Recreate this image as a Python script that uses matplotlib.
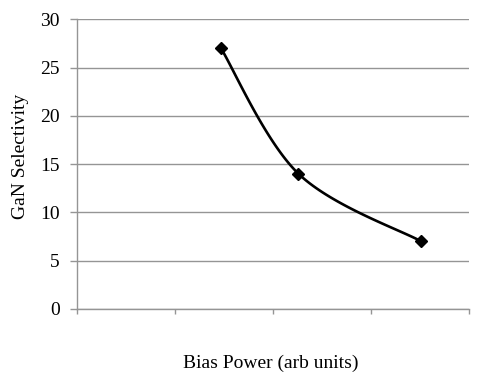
import matplotlib
matplotlib.use('Agg')
import numpy as np
import matplotlib.pyplot as plt
from matplotlib.ticker import MultipleLocator

# data
biasPower = [1.47, 2.26, 3.51]
selectivity = [27, 14, 7]
yTicks = [0, 5, 10, 15, 20, 25, 30]

plt.rcParams['font.family'] = ['Liberation Serif', 'DejaVu Serif']
fig = plt.figure(figsize=(4.89, 3.8), dpi=100)
ax = fig.add_axes([0.1575, 0.1876, 0.8015, 0.7611])
ax.set_xlim(0, 4)
ax.set_ylim(0, 30)
ax.set_yticks(yTicks)
ax.xaxis.set_major_locator(MultipleLocator(1))
ax.set_xticklabels([])
grey = '#959595'
ax.grid(axis='y', color=grey, linewidth=1.0)
ax.set_axisbelow(True)
for s in ['top', 'right']:
    ax.spines[s].set_visible(False)
for s in ['left', 'bottom']:
    ax.spines[s].set_color(grey)
    ax.spines[s].set_linewidth(1.0)
ax.tick_params(axis='both', colors=grey, width=1.0, labelsize=14, labelcolor='black')
ax.tick_params(axis='y', length=5, pad=7.5)
ax.tick_params(axis='x', length=3.5)

# smooth line like excel: catmull-rom bezier in screen space
fig.canvas.draw()
pts = ax.transData.transform(np.column_stack([biasPower, selectivity]))
curve = []
n = len(pts)
for i in range(n - 1):
    p0 = pts[max(i - 1, 0)]
    p1 = pts[i]
    p2 = pts[i + 1]
    p3 = pts[min(i + 2, n - 1)]
    c1 = p1 + (p2 - p0) / 6.0
    c2 = p2 - (p3 - p1) / 6.0
    t = np.linspace(0, 1, 40)[:, None]
    seg = (1 - t) ** 3 * p1 + 3 * (1 - t) ** 2 * t * c1 + 3 * (1 - t) * t ** 2 * c2 + t ** 3 * p2
    curve.append(seg)
curve = ax.transData.inverted().transform(np.vstack(curve))
ax.plot(curve[:, 0], curve[:, 1], color='black', linewidth=1.9, clip_on=False)
ax.plot(biasPower, selectivity, 'D', color='black', markersize=6.5, clip_on=False)

ax.set_ylabel("GaN Selectivity", fontsize=14)
ax.yaxis.set_label_coords(-0.122, 0.527)
ax.set_xlabel("Bias Power (arb units)", fontsize=14)
ax.xaxis.set_label_coords(0.495, -0.16)
plt.savefig("out.png", dpi=100)
